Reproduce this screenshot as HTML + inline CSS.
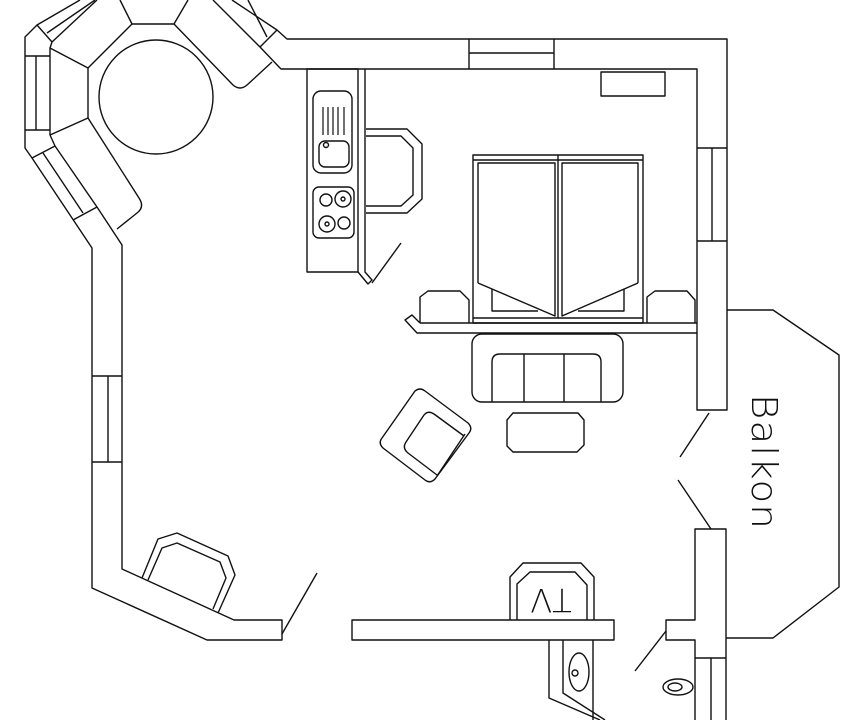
<!DOCTYPE html>
<html><head><meta charset="utf-8"><style>
html,body{margin:0;padding:0;background:#fff;width:864px;height:720px;overflow:hidden}
svg{display:block}
</style></head><body>
<svg width="864" height="720" viewBox="0 0 864 720" xmlns="http://www.w3.org/2000/svg" fill="none" stroke="#111" stroke-width="1.4" stroke-linejoin="round">
<!-- top-left walls -->
<polyline points="80,0 37,25 25,37 25,148 32,158 92,248 92,588 207,640 282,640 282,620 234,620 122,569 122,245 97,207 55,146 50,135 50,48 52,42 97,0"/>
<line x1="95" y1="0" x2="47" y2="33"/>
<line x1="37" y1="25" x2="52" y2="42"/>
<line x1="25" y1="56" x2="50" y2="56"/>
<line x1="25" y1="130" x2="50" y2="130"/>
<line x1="36" y1="56" x2="36" y2="130"/>
<line x1="32" y1="158" x2="55" y2="146"/>
<line x1="73" y1="220" x2="97" y2="207"/>
<line x1="43" y1="153" x2="83" y2="213"/>
<line x1="92" y1="376" x2="122" y2="376"/>
<line x1="92" y1="462" x2="122" y2="462"/>
<line x1="108" y1="376" x2="108" y2="462"/>
<line x1="282" y1="634" x2="317" y2="573"/>
<!-- top wall -->
<polyline points="213,0 260,47 280,68 281,69 697,69 697,410 727,410 727,39 287,39 277,30 232,0"/>
<line x1="248" y1="0" x2="267" y2="37"/>
<line x1="260" y1="47" x2="277" y2="30"/>
<line x1="469" y1="39" x2="469" y2="69"/>
<line x1="554" y1="39" x2="554" y2="69"/>
<line x1="469" y1="53" x2="554" y2="53"/>
<line x1="697" y1="148" x2="727" y2="148"/>
<line x1="697" y1="241" x2="727" y2="241"/>
<line x1="712" y1="148" x2="712" y2="241"/>
<!-- lower right wall -->
<polyline points="695,720 695,640 666,640 666,620 695,620 695,529 726,529 726,720"/>
<line x1="695" y1="658" x2="726" y2="658"/>
<line x1="711" y1="658" x2="711" y2="720"/>
<line x1="709" y1="413" x2="680" y2="457"/>
<line x1="678" y1="480" x2="711" y2="529"/>
<line x1="635" y1="671" x2="666" y2="631"/>
<!-- balcony -->
<polyline points="727,310 773,310 839,355 839,587 773,638 726,638"/>
<text x="0" y="0" transform="translate(752,394) rotate(90)" font-family="'DejaVu Sans','Liberation Sans',sans-serif" font-size="36" fill="#111" stroke="none" font-weight="200" letter-spacing="1" textLength="136" lengthAdjust="spacingAndGlyphs">Balkon</text>
<!-- bench and table -->
<circle cx="156" cy="97" r="57"/>
<polyline points="120,0 132,24 174,24 188,0"/>
<line x1="132" y1="24" x2="88" y2="68"/>
<line x1="88" y1="68" x2="88" y2="118"/>
<line x1="88" y1="68" x2="50" y2="48"/>
<line x1="88" y1="118" x2="50" y2="135"/>
<path d="M88,118 L139,198 Q145,207 137,213 L117,229"/>
<path d="M174,24 L233,85 Q240,91 247,85 L272,62"/>
<!-- kitchen -->
<rect x="307" y="69" width="51" height="203"/>
<polyline points="365,69 365,272 372,280 368,284 358,272"/>
<rect x="313" y="91" width="39" height="82" rx="8"/>
<g stroke-width="1.2"><line x1="323" y1="107" x2="323" y2="135"/><line x1="328" y1="107" x2="328" y2="135"/><line x1="333" y1="107" x2="333" y2="135"/><line x1="338" y1="107" x2="338" y2="135"/><line x1="344" y1="107" x2="344" y2="135"/></g>
<rect x="319" y="141" width="30" height="26" rx="6"/>
<circle cx="326" cy="145" r="2.5"/>
<rect x="313" y="187" width="41" height="51" rx="6"/>
<circle cx="326" cy="200" r="6"/><circle cx="343" cy="199" r="8"/><circle cx="343" cy="199" r="2"/>
<circle cx="327" cy="224" r="8"/><circle cx="327" cy="224" r="2"/><circle cx="344" cy="223" r="6"/>
<polyline points="366,129 407,129 422,144 422,199 407,213 366,213"/>
<polyline points="366,136 401,136 413,148 413,195 401,206 366,206"/>
<line x1="372" y1="283" x2="401" y2="243"/>
<!-- small rect -->
<rect x="601" y="72" width="64" height="24"/>
<!-- bed -->
<rect x="473" y="155" width="170" height="168"/>
<line x1="473" y1="160" x2="643" y2="160"/>
<line x1="473" y1="318" x2="643" y2="318"/>
<line x1="558" y1="155" x2="558" y2="318"/>
<polyline points="478,283 478,163 555,163 555,316 478,283"/>
<polyline points="638,283 638,163 562,163 562,316 638,283"/>
<polyline points="492,289 492,311 538,311"/>
<polyline points="624,289 624,311 578,311"/>
<polyline points="420,323 420,297 428,291 460,291 469,300 469,323"/>
<polyline points="647,323 647,297 655,291 687,291 695,300 695,323"/>
<line x1="420" y1="323" x2="697" y2="323"/>
<polyline points="697,333 417,333 405,320 412,315 420,323"/>
<!-- sofa -->
<rect x="472" y="334" width="151" height="68" rx="10"/>
<path d="M492,402 L492,362 Q492,354 500,354 L593,354 Q601,354 601,362 L601,402"/>
<line x1="524" y1="354" x2="524" y2="402"/>
<line x1="564" y1="354" x2="564" y2="402"/>
<polygon points="513,413 578,413 584,420 584,445 577,452 513,452 507,446 507,420"/>
<!-- armchair -->
<path d="M415,391 Q420,387 425,391 L468,423 Q473,428 469,433 L435,479 Q430,484 425,480 L383,448 Q378,443 382,438 Z"/>
<path d="M465,434 L437,476 M424,415 Q428,410 434,414 L464,436 M437,475 L408,453 Q402,448 406,442 L424,415"/>
<!-- chair bottom-left -->
<polyline points="142,578 158,539 177,533 228,556 235,575 218,613"/>
<polyline points="148,580 162,548 177,543 220,562 226,578 213,609"/>
<!-- TV wall -->
<rect x="352" y="620" width="262" height="20"/>
<polyline points="510,620 510,577 523,563 581,563 594,577 594,620"/>
<polyline points="517,620 517,584 530,572 575,572 587,585 587,620"/>
<text x="0" y="0" transform="translate(551,598) rotate(180)" text-anchor="middle" dominant-baseline="middle" font-family="'DejaVu Sans','Liberation Sans',sans-serif" font-size="32" font-weight="200" fill="#111" stroke="none">TV</text>
<!-- bathroom -->
<polyline points="549,640 549,698 600,720"/>
<polyline points="563,640 563,693 605,720"/>
<line x1="593" y1="640" x2="593" y2="720"/>
<ellipse cx="579" cy="672" rx="10" ry="19"/>
<circle cx="575" cy="673" r="3"/>
<ellipse cx="678" cy="687" rx="15" ry="8"/>
<ellipse cx="675" cy="687" rx="7" ry="4"/>
</svg>
</body></html>
